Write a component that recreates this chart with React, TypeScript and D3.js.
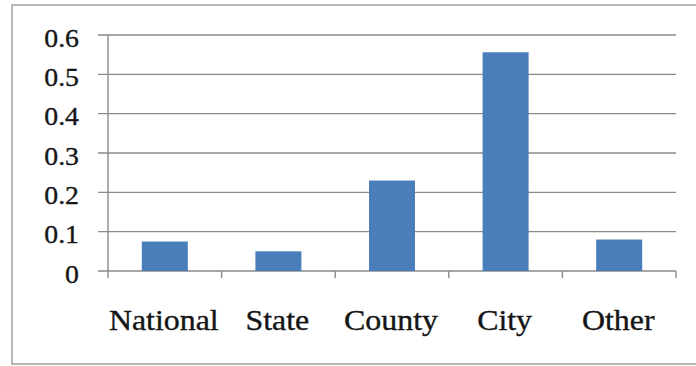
import React from "react";
import * as d3 from "d3";

const categories = ["National", "State", "County", "City", "Other"];
const values = [0.075, 0.05, 0.23, 0.556, 0.08];
const yTicks = [0, 0.1, 0.2, 0.3, 0.4, 0.5, 0.6];
const yTickLabels = ["0", "0.1", "0.2", "0.3", "0.4", "0.5", "0.6"];

export default function App() {
  const width = 696;
  const height = 366;
  const plotLeft = 108;
  const plotRight = 676;
  const plotTop = 35;
  const plotBottom = 271;

  const x = d3
    .scaleBand<string>()
    .domain(categories)
    .range([plotLeft, plotRight])
    .paddingInner(0.595)
    .paddingOuter(0.2975);
  const y = d3.scaleLinear().domain([0, 0.6]).range([plotBottom, plotTop]);

  const step = x.step();
  const boundaries = d3.range(categories.length + 1).map((i) => plotLeft + i * step);
  const font = "'Liberation Serif', 'Times New Roman', serif";
  const grid = "#8a8a8a";
  const ink = "#151515";

  return (
    <svg
      width={width}
      height={height}
      style={{ position: "absolute", left: 0, top: 0, background: "#fff" }}
    >
      <rect x={12} y={5} width={700} height={359} fill="#fff" stroke="#a0a0a0" strokeWidth={1.5} />
      {yTicks.map((t, i) => (
        <g key={t}>
          <line x1={98} x2={plotRight} y1={y(t)} y2={y(t)} stroke={grid} strokeWidth={1.4} />
          <text
            transform={`translate(79,${y(t) + 11.6}) scale(1.07,1)`}
            textAnchor="end"
            fontFamily={font}
            fontSize={26}
            fill={ink}
            stroke={ink}
            strokeWidth={0.35}
          >
            {yTickLabels[i]}
          </text>
        </g>
      ))}
      <line x1={plotLeft} x2={plotLeft} y1={plotTop} y2={plotBottom} stroke={grid} strokeWidth={1.4} />
      {boundaries.map((bx, i) => (
        <line key={i} x1={bx} x2={bx} y1={plotBottom} y2={plotBottom + 7} stroke={grid} strokeWidth={1.4} />
      ))}
      {categories.map((c, i) => (
        <rect
          key={c}
          x={x(c)}
          y={y(values[i])}
          width={x.bandwidth()}
          height={plotBottom - y(values[i])}
          fill="#4a7ebb"
        />
      ))}
      {categories.map((c) => (
        <text
          key={c}
          transform={`translate(${(x(c) as number) + x.bandwidth() / 2 - 1},329.5) scale(1.1,1)`}
          textAnchor="middle"
          fontFamily={font}
          fontSize={29}
          fill={ink}
          stroke={ink}
          strokeWidth={0.35}
        >
          {c}
        </text>
      ))}
    </svg>
  );
}
